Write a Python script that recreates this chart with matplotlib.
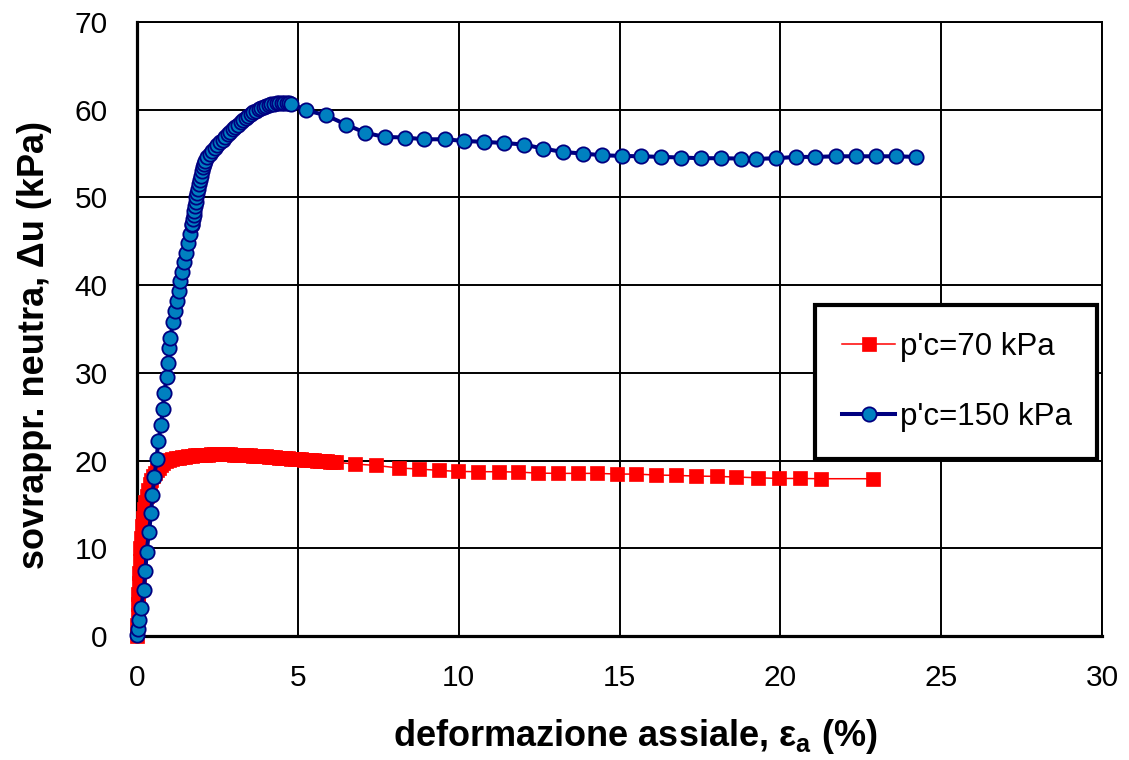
"""Excess pore pressure vs axial strain, two consolidation pressures."""

import matplotlib
matplotlib.use("Agg")
import matplotlib.pyplot as plt

plt.rcParams["font.family"] = ["Liberation Sans", "DejaVu Sans"]
plt.rcParams["mathtext.fontset"] = "custom"
plt.rcParams["mathtext.rm"] = "Liberation Sans"
plt.rcParams["mathtext.bf"] = "Liberation Sans:bold"

# p'c = 70 kPa (red squares)
strain_70 = [
    0, 0.01, 0.02, 0.03, 0.04, 0.05, 0.06, 0.08, 0.10, 0.12, 0.15, 0.18, 0.22,
    0.26, 0.30, 0.35, 0.40, 0.45, 0.50, 0.56, 0.62, 0.68, 0.75, 0.82, 0.90, 1.0,
    1.1, 1.2, 1.3, 1.4, 1.5, 1.6, 1.7, 1.8, 1.9, 2.0, 2.1, 2.2, 2.3, 2.4, 2.5,
    2.6, 2.7, 2.8, 2.9, 3.0, 3.1, 3.2, 3.3, 3.4, 3.5, 3.6, 3.7, 3.8, 3.9, 4.0,
    4.1, 4.2, 4.3, 4.4, 4.5, 4.6, 4.7, 4.8, 4.9, 5.0, 5.1, 5.2, 5.3, 5.4, 5.5,
    5.6, 5.7, 5.8, 5.9, 6.0, 6.1, 6.2,
    6.79, 7.42, 8.15, 8.78, 9.40, 9.99, 10.61, 11.24, 11.85, 12.47, 13.08,
    13.70, 14.31, 14.93, 15.52, 16.15, 16.77, 17.39, 18.02, 18.63, 19.30,
    19.95, 20.61, 21.26, 22.89,
]
du_70 = [
    0, 1.2, 2.4, 3.6, 4.8, 6.0, 7.2, 8.6, 10.0, 11.2, 12.5, 13.5, 14.5,
    15.3, 16.0, 16.7, 17.3, 17.8, 18.2, 18.6, 18.95, 19.2, 19.5, 19.7, 19.9, 20.1,
    20.2, 20.3, 20.35, 20.4, 20.45, 20.5, 20.55, 20.6, 20.62, 20.64, 20.66, 20.68,
    20.7, 20.7, 20.7, 20.7, 20.7, 20.7, 20.7, 20.68, 20.66, 20.64, 20.62, 20.6,
    20.58, 20.56, 20.54, 20.52, 20.5, 20.47, 20.44, 20.41, 20.38, 20.35, 20.32,
    20.29, 20.26, 20.23, 20.2, 20.17, 20.14, 20.11, 20.08, 20.05, 20.02, 19.99,
    19.96, 19.93, 19.9, 19.87, 19.84, 19.8,
    19.6, 19.45, 19.15, 19.03, 18.88, 18.76, 18.73, 18.73, 18.69, 18.57, 18.54,
    18.54, 18.54, 18.46, 18.46, 18.35, 18.31, 18.23, 18.2, 18.12, 18.04,
    17.96, 17.96, 17.93, 17.93,
]

# p'c = 150 kPa (blue circles)
strain_150 = [
    0, 0.02, 0.07, 0.13, 0.21, 0.26, 0.30, 0.37, 0.44, 0.48, 0.54, 0.61, 0.66,
    0.75, 0.80, 0.85, 0.92, 0.96, 1.0, 1.03, 1.13, 1.18, 1.23, 1.30, 1.34, 1.41,
    1.47, 1.52, 1.59, 1.65, 1.70,
    1.72, 1.74, 1.76, 1.78, 1.80, 1.82, 1.84, 1.86, 1.89, 1.92, 1.95, 1.98,
    2.01, 2.04, 2.07,
    2.10, 2.18, 2.26, 2.34, 2.42, 2.50, 2.58, 2.66, 2.74, 2.82, 2.90, 2.98,
    3.06, 3.14, 3.22, 3.30, 3.38, 3.46, 3.54, 3.62, 3.70, 3.78, 3.86, 3.94,
    4.02, 4.10, 4.18, 4.26, 4.34, 4.42, 4.50, 4.58, 4.66, 4.74, 4.80,
    5.25, 5.87, 6.50, 7.10, 7.70, 8.32, 8.93, 9.56, 10.17, 10.79, 11.40, 12.02,
    12.63, 13.24, 13.86, 14.46, 15.08, 15.68, 16.30, 16.91, 17.52, 18.16,
    18.77, 19.25, 19.87, 20.49, 21.09, 21.74, 22.35, 22.96, 23.60, 24.22,
]
du_150 = [
    0.1, 0.8, 1.8, 3.2, 5.2, 7.4, 9.6, 11.8, 14.0, 16.1, 18.1, 20.2, 22.2,
    24.0, 25.9, 27.7, 29.5, 31.1, 32.8, 34.0, 35.8, 37.1, 38.2, 39.3, 40.45, 41.5,
    42.6, 43.7, 44.8, 45.8, 46.8,
    47.0, 47.5, 48.0, 48.5, 49.0, 49.5, 50.0, 50.5, 51.0, 51.5, 52.0, 52.5,
    53.0, 53.5, 53.8,
    54.1, 54.6, 55.0, 55.3, 55.6, 55.95, 56.3, 56.6, 56.9, 57.2, 57.5, 57.8,
    58.05, 58.3, 58.55, 58.8, 59.05, 59.3, 59.5, 59.7, 59.9, 60.05, 60.2, 60.35,
    60.45, 60.55, 60.62, 60.68, 60.72, 60.75, 60.76, 60.76, 60.74, 60.72, 60.7,
    59.94, 59.37, 58.31, 57.36, 56.90, 56.83, 56.63, 56.63, 56.44, 56.33, 56.21,
    56.03, 55.57, 55.18, 55.0, 54.81, 54.73, 54.69, 54.62, 54.55, 54.47, 54.47,
    54.43, 54.39, 54.47, 54.62, 54.62, 54.69, 54.69, 54.69, 54.69, 54.62,
]

x_ticks = [0, 5, 10, 15, 20, 25, 30]
y_ticks = [0, 10, 20, 30, 40, 50, 60, 70]
labels = ["p'c=70 kPa", "p'c=150 kPa"]


fig = plt.figure(figsize=(11.29, 7.6), dpi=100)
ax = fig.add_axes([137 / 1129, 1 - 636 / 760, 965 / 1129, 614 / 760])

ax.plot(strain_70, du_70, color="#FF0000", lw=1.1, marker="s", markersize=10.5,
        markerfacecolor="#FF0000", markeredgecolor="#FF0000", markeredgewidth=0.5,
        label=labels[0], zorder=3, clip_on=False)
ax.plot(strain_150, du_150, color="#000080", lw=2.9, marker="o", markersize=10.3,
        markerfacecolor="#0080C0", markeredgecolor="#000080", markeredgewidth=1.3,
        label=labels[1], zorder=4, clip_on=False)

ax.set_xlim(0, 30)
ax.set_ylim(0, 70)
ax.set_xticks(x_ticks)
ax.set_yticks(y_ticks)
ax.tick_params(axis="both", length=0, labelsize=21.5)
ax.tick_params(axis="x", pad=20)
ax.tick_params(axis="y", pad=21)
ax.grid(True, color="black", lw=1.4)
ax.set_axisbelow(True)

for side in ["left", "bottom"]:
    ax.spines[side].set_linewidth(2.3)
for side in ["top", "right"]:
    ax.spines[side].set_linewidth(1.4)

ax.set_xlabel(r"deformazione assiale, ε$_{\mathbf{a}}$ (%)", fontsize=26, fontweight="bold")
ax.xaxis.set_label_coords(0.516, -0.164)
ax.xaxis.label.set_va("center")
ax.set_ylabel("sovrappr. neutra, Δu (kPa)", fontsize=26, fontweight="bold")
ax.yaxis.set_label_coords(-0.106, 0.474)
ax.yaxis.label.set_va("center")

leg = ax.legend(loc="upper left", bbox_to_anchor=(0.703, 0.295, 0.292, 0.244),
                mode="expand", fontsize=22.5, frameon=True, fancybox=False,
                borderpad=0.85, labelspacing=1.3, handlelength=1.7,
                handletextpad=0.15, borderaxespad=0)
leg.get_frame().set_edgecolor("black")
leg.get_frame().set_linewidth(3)
leg.get_frame().set_alpha(1)

fig.savefig("out.png", dpi=100)
